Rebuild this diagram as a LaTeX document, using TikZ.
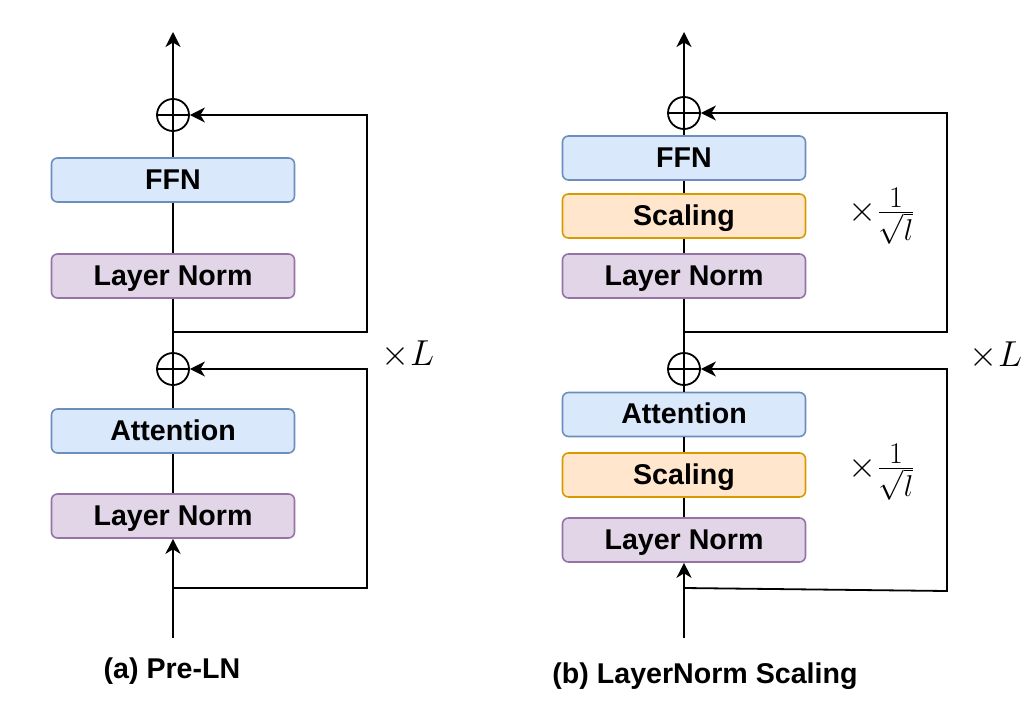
\documentclass[tikz,border=0pt]{standalone}
\usepackage[no-math]{fontspec}
\setmainfont{Liberation Sans}
\usepackage{graphicx}
\usetikzlibrary{arrows.meta}
\definecolor{blueF}{HTML}{DAE8FC}
\definecolor{blueD}{HTML}{6C8EBF}
\definecolor{purpF}{HTML}{E1D5E7}
\definecolor{purpD}{HTML}{9673A6}
\definecolor{orgF}{HTML}{FFE6CC}
\definecolor{orgD}{HTML}{D79B00}
\newcommand{\bigmath}[1]{\scalebox{1.45}{\Huge$#1$}}
\begin{document}
\begin{tikzpicture}[x=1pt,y=-1pt,
  box/.style={draw, rounded corners=6pt, line width=1.6pt, minimum width=243pt, minimum height=44pt, inner sep=0pt,
    text height=20.5pt, text depth=2.5pt, font=\fontsize{28.6}{34}\selectfont\bfseries},
  bluebox/.style={box, fill=blueF, draw=blueD},
  purpbox/.style={box, fill=purpF, draw=purpD},
  orgbox/.style={box, fill=orgF, draw=orgD},
  conn/.style={line width=1.8pt},
  arr/.style={conn, -{Stealth[length=15pt,width=15pt,inset=4.5pt]}},
  adder/.style={circle, draw, line width=1.8pt, minimum size=32pt, inner sep=0pt,
    path picture={\draw[line width=1.8pt] (path picture bounding box.north) -- (path picture bounding box.south) (path picture bounding box.west) -- (path picture bounding box.east);}},
  caption/.style={anchor=base, inner sep=0pt, font=\fontsize{28.6}{34}\selectfont\bfseries},
  mathlbl/.style={inner sep=0pt}
  ]
\useasboundingbox (0,0) rectangle (1024,712);

% ---------- (a) Pre-LN ----------
\node[purpbox] (aln2) at (173,516) {Layer Norm};
\node[bluebox] (aatt) at (173,431) {Attention};
\node[adder] (aadd2) at (173,369) {};
\node[purpbox] (aln1) at (173,276) {Layer Norm};
\node[bluebox] (affn) at (173,180) {FFN};
\node[adder] (aadd1) at (173,115) {};
\coordinate (ain) at (173,638);
\coordinate (aout) at (173,32);
\coordinate (abr2) at (173,588);
\coordinate (ac2) at (367,588);
\coordinate (abr1) at (173,332);
\coordinate (ac1) at (367,332);

\draw[arr] (ain) -- (aln2);
\draw[conn] (aln2) -- (aatt);
\draw[conn] (aatt) -- (aadd2);
\draw[conn] (aadd2) -- (aln1);
\draw[conn] (aln1) -- (affn);
\draw[conn] (affn) -- (aadd1);
\draw[arr] (aadd1) -- (aout);
\draw[arr] (abr2) -- (ac2) |- (aadd2.east);
\draw[arr] (abr1) -- (ac1) |- (aadd1.east);

\node[mathlbl] (aL) at (408,355) {\bigmath{\times L}};
\node[caption] (acap) at (172,678) {(a) Pre-LN};

% ---------- (b) LayerNorm Scaling ----------
\node[purpbox] (bln2) at (684,540) {Layer Norm};
\node[orgbox] (bsc2) at (684,475) {Scaling};
\node[bluebox] (batt) at (684,414.5) {Attention};
\node[adder] (badd2) at (684,369) {};
\node[purpbox] (bln1) at (684,276) {Layer Norm};
\node[orgbox] (bsc1) at (684,216) {Scaling};
\node[bluebox] (bffn) at (684,158) {FFN};
\node[adder] (badd1) at (684,113) {};
\coordinate (bin) at (684,638);
\coordinate (bout) at (684,32);
\coordinate (bbr2) at (684,588);
\coordinate (bc2) at (947,591);
\coordinate (bbr1) at (684,332);
\coordinate (bc1) at (947,332);

\draw[arr] (bin) -- (bln2);
\draw[conn] (bln2) -- (bsc2);
\draw[conn] (bsc2) -- (batt);
\draw[conn] (batt) -- (badd2);
\draw[conn] (badd2) -- (bln1);
\draw[conn] (bln1) -- (bsc1);
\draw[conn] (bsc1) -- (bffn);
\draw[conn] (bffn) -- (badd1);
\draw[arr] (badd1) -- (bout);
\draw[arr] (bbr2) -- (bc2) |- (badd2.east);
\draw[arr] (bbr1) -- (bc1) |- (badd1.east);

\node[mathlbl] (bs1) at (882,216) {\bigmath{\times\frac{1}{\sqrt{l}}}};
\node[mathlbl] (bs2) at (882,472) {\bigmath{\times\frac{1}{\sqrt{l}}}};
\node[mathlbl] (bL) at (996,356) {\bigmath{\times L}};
\node[caption] (bcap) at (705,683) {(b) LayerNorm Scaling};
\end{tikzpicture}
\end{document}
